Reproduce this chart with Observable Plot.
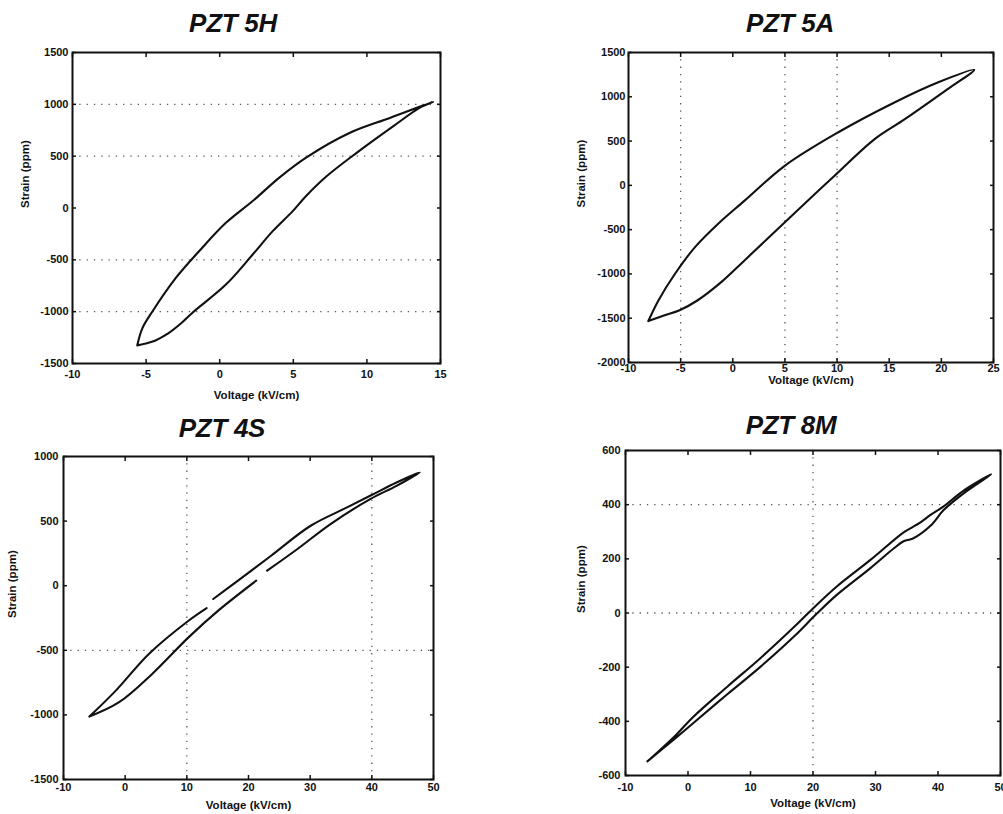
<!DOCTYPE html>
<html><head><meta charset="utf-8">
<script src="https://cdn.jsdelivr.net/npm/d3@7"></script>
<script src="https://cdn.jsdelivr.net/npm/@observablehq/plot@0.6"></script>
<style>
body{margin:0;background:#fff;}
#wrap{position:relative;width:1003px;height:814px;overflow:hidden;background:#fff;}
.panel{position:absolute;}
.title{position:absolute;font:italic bold 26px "Liberation Sans",Arial,sans-serif;transform:translate(-50%,-50%);white-space:nowrap;color:#111;letter-spacing:-0.3px}
</style></head><body><div id="wrap"></div>
<script>
// ---- Data: hysteresis loops (field kV/cm, strain ppm), traced lower branch then upper branch ----
const titles = ["PZT 5H", "PZT 5A", "PZT 4S", "PZT 8M"];
const xLabel = "Voltage (kV/cm)";
const yLabel = "Strain (ppm)";

const v5H = [-5.6, -5.1, -4.4, -3.5, -2.6, -1.85, 0.42, 2.24, 3.6, 4.96, 5.87, 7.26, 9.3, 11.8, 13.6, 14.5, 11.6, 8.85, 5.87, 4.05, 2.24, 0.42, -1.4, -2.98, -4.57, -5.25, -5.6];
const s5H = [-1325, -1310, -1280, -1210, -1110, -1010, -739, -449, -223, -30, 116, 306, 532, 790, 968, 1025, 871, 726, 486, 293, 67, -143, -417, -675, -998, -1159, -1325];

const v5A = [-8.1, -6.6, -5.1, -3.4, -1.08, 1.1, 3.7, 7.21, 9.76, 13.6, 16.5, 20.6, 23.15, 19.65, 15.5, 10.08, 4.98, 1.16, -1.4, -3.62, -5.54, -7.13, -8.1];
const s5A = [-1532, -1470, -1410, -1300, -1090, -850, -560, -170, 108, 522, 747, 1086, 1304, 1161, 936, 597, 221, -170, -433, -697, -998, -1299, -1532];

const v4S = [-5.8, -0.98, 4.38, 10.27, 15.09, 21.25, null, 23.02, 27.94, 33.3, 39.73, 44.0, 47.76, 44.0, 40.26, 35.98, 30.08, 23.66, 18.3, 14.28, null, 13.21, 10.27, 3.84, -1.52, -5.8];
const s4S = [-1013, -902, -683, -400, -193, 39, null, 116, 284, 477, 670, 773, 876, 799, 709, 606, 464, 232, 39, -103, null, -173, -271, -528, -812, -1013];

const v8M = [-6.5, -2.0, 0.91, 6.29, 11.67, 17.04, 20.5, 23.76, 29.14, 33.0, 34.5, 36.0, 38.8, 40.9, 44.1, 48.5, 44.1, 40.9, 38.8, 37.2, 36.0, 34.5, 29.14, 23.76, 19.46, 17.04, 11.67, 6.29, 0.91, -2.0, -6.5];
const s8M = [-548, -462, -405, -300, -197, -85, -5, 66, 165, 240, 265, 275, 322, 380, 442, 512, 452, 394, 362, 335, 318, 298, 195, 97, 5, -50, -165, -272, -382, -452, -548];

// axis ticks
const xTicks5H = [-10, -5, 0, 5, 10, 15];
const yTicks5H = [-1500, -1000, -500, 0, 500, 1000, 1500];
const xTicks5A = [-10, -5, 0, 5, 10, 15, 20, 25];
const yTicks5A = [-2000, -1500, -1000, -500, 0, 500, 1000, 1500];
const xTicks4S = [-10, 0, 10, 20, 30, 40, 50];
const yTicks4S = [-1500, -1000, -500, 0, 500, 1000];
const xTicks8M = [-10, 0, 10, 20, 30, 40, 50];
const yTicks8M = [-600, -400, -200, 0, 200, 400, 600];

// dotted grid remnants
const gridX5H = [], gridY5H = [1000, 500, -500, -1000];
const gridX5A = [-5, 5, 10], gridY5A = [];
const gridX4S = [10, 40], gridY4S = [-500];
const gridX8M = [20], gridY8M = [400, 0];

const panels = [
  {title: titles[0], v: v5H, s: s5H, xt: xTicks5H, yt: yTicks5H, gx: gridX5H, gy: gridY5H,
   left: 0, top: 0, width: 460, height: 410, ml: 72, mr: 20, mt: 52, mb: 47,
   xPad: 7, yPad: 4, xLab: 32, yLab: 47, tx: 233, ty: 23},
  {title: titles[1], v: v5A, s: s5A, xt: xTicks5A, yt: yTicks5A, gx: gridX5A, gy: gridY5A,
   left: 500, top: 0, width: 503, height: 410, ml: 128, mr: 10, mt: 52, mb: 48,
   xPad: 2, yPad: 3, xLab: 18, yLab: 47, tx: 790, ty: 23},
  {title: titles[2], v: v4S, s: s4S, xt: xTicks4S, yt: yTicks4S, gx: gridX4S, gy: gridY4S,
   left: 0, top: 400, width: 460, height: 414, ml: 63, mr: 27, mt: 56, mb: 35,
   xPad: 4, yPad: 5, xLab: 26, yLab: 51, tx: 222, ty: 428},
  {title: titles[3], v: v8M, s: s8M, xt: xTicks8M, yt: yTicks8M, gx: gridX8M, gy: gridY8M,
   left: 500, top: 400, width: 503, height: 414, ml: 125, mr: 3, mt: 50, mb: 39,
   xPad: 8, yPad: 5, xLab: 28, yLab: 44, tx: 791, ty: 425}
];

const wrap = document.getElementById("wrap");
const fmt = d => String(d);
const font = '"Liberation Sans", Arial, sans-serif';

for (const p of panels) {
  const data = p.v.map((v, i) => ({v, s: p.s[i]}));
  const xDom = [p.xt[0], p.xt[p.xt.length - 1]];
  const yDom = [p.yt[0], p.yt[p.yt.length - 1]];
  const dotted = {stroke: "#222", strokeWidth: 1.3, strokeDasharray: "1.3,6", strokeOpacity: 0.75};
  const chart = Plot.plot({
    width: p.width, height: p.height,
    marginLeft: p.ml, marginRight: p.mr, marginTop: p.mt, marginBottom: p.mb,
    style: {fontFamily: font, fontSize: "11px", fontWeight: "bold", background: "transparent", overflow: "visible", color: "#111"},
    x: {domain: xDom},
    y: {domain: yDom},
    marks: [
      Plot.ruleY(p.gy, dotted),
      Plot.ruleX(p.gx, dotted),
      Plot.line(data, {x: "v", y: "s", curve: "catmull-rom", stroke: "#111", strokeWidth: 2.1, strokeLinejoin: "round"}),
      Plot.frame({stroke: "#111", strokeWidth: 2}),
      Plot.axisX({ticks: p.xt, tickSize: 0, tickPadding: p.xPad, tickFormat: fmt, label: null}),
      Plot.axisY({ticks: p.yt, tickSize: 0, tickPadding: p.yPad, tickFormat: fmt, label: null}),
      Plot.axisX({ticks: p.xt, tickSize: -4, tickFormat: () => "", label: null, strokeWidth: 1.5}),
      Plot.axisX({anchor: "top", ticks: p.xt, tickSize: -4, tickFormat: () => "", label: null, strokeWidth: 1.5}),
      Plot.axisY({ticks: p.yt, tickSize: -4, tickFormat: () => "", label: null, strokeWidth: 1.5}),
      Plot.axisY({anchor: "right", ticks: p.yt, tickSize: -4, tickFormat: () => "", label: null, strokeWidth: 1.5}),
      Plot.text([xLabel], {frameAnchor: "bottom", dy: p.xLab, text: d => d, lineAnchor: "middle", fontSize: 11.5, fontWeight: "bold"}),
      Plot.text([yLabel], {frameAnchor: "left", dx: -p.yLab, rotate: -90, text: d => d, lineAnchor: "middle", fontSize: 11.5, fontWeight: "bold"})
    ]
  });
  chart.classList.add("panel");
  chart.style.left = p.left + "px";
  chart.style.top = p.top + "px";
  wrap.appendChild(chart);
  const t = document.createElement("div");
  t.className = "title";
  t.textContent = p.title;
  t.style.left = p.tx + "px";
  t.style.top = p.ty + "px";
  wrap.appendChild(t);
}
</script>
</body></html>
